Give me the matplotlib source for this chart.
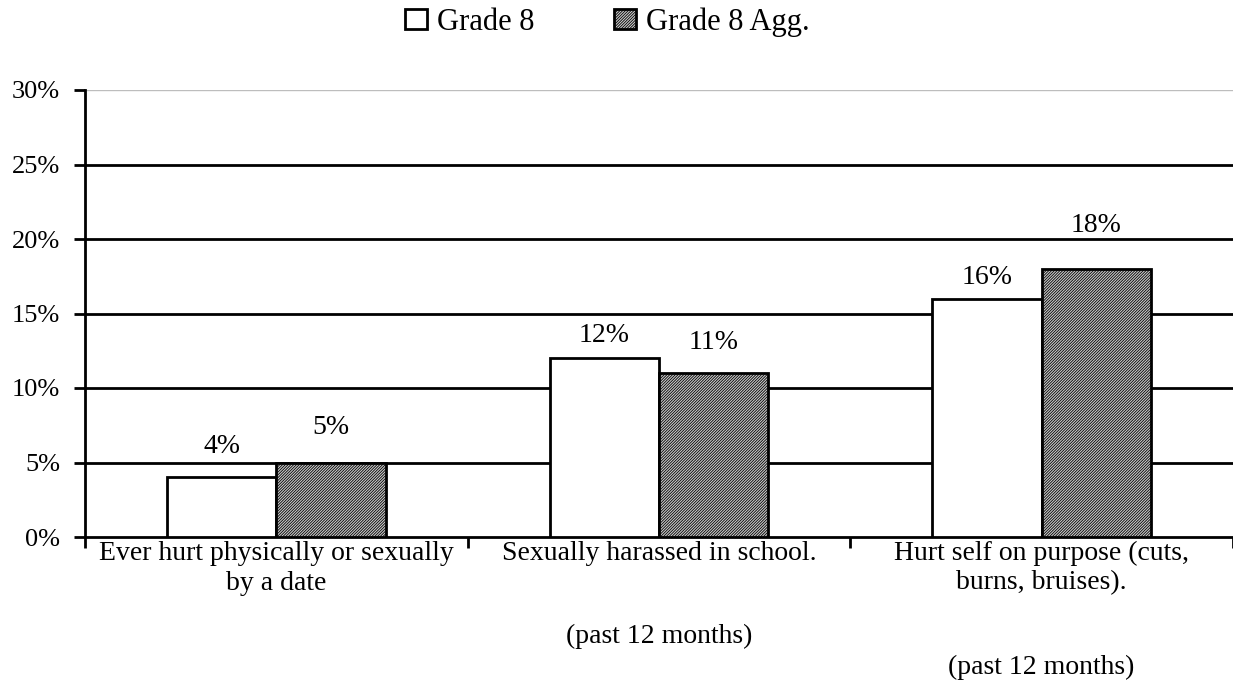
import matplotlib
matplotlib.use("Agg")
import matplotlib.pyplot as plt
from matplotlib.patches import Patch
import numpy as np

categories = ["Ever hurt physically or sexually\nby a date",
              "Sexually harassed in school.",
              "Hurt self on purpose (cuts,\nburns, bruises)."]
sub_labels = ["", "(past 12 months)", "(past 12 months)"]
series_names = ["Grade 8", "Grade 8 Agg."]
grade8 = [4, 12, 16]
grade8_agg = [5, 11, 18]
yticks = [0, 5, 10, 15, 20, 25, 30]

# label baseline offsets above bar tops (pixels), as placed in the original
label_off_g8 = [24.7, 15.7, 14.3]
label_off_agg = [29, 23.7, 36.5]

plt.rcParams['font.family'] = ['Liberation Serif', 'DejaVu Serif']
plt.rcParams['hatch.linewidth'] = 0.6
plt.rcParams['hatch.color'] = '#3a3a3a'

FS = 20
HATCH = '/' * 12
AGG_FACE = '#cacaca'
W, H = 1233, 696
fig = plt.figure(figsize=(W/100, H/100), dpi=100)
ax = fig.add_axes([85/W, 1-537/H, 1-85/W, (537-90)/H])

x = np.arange(len(categories))
bw = 0.286
b1 = ax.bar(x - bw/2, grade8, bw, color='white', edgecolor='black', linewidth=2, zorder=3)
b2 = ax.bar(x + bw/2, grade8_agg, bw, color=AGG_FACE, edgecolor='black', linewidth=2,
            hatch=HATCH, zorder=3)

for bars, vals, offs in ((b1, grade8, label_off_g8), (b2, grade8_agg, label_off_agg)):
    for r, v, o in zip(bars, vals, offs):
        ax.annotate(f"{v}%", (r.get_x() + r.get_width()/2, v), xytext=(0, o),
                    textcoords='offset pixels', ha='center', va='baseline', fontsize=FS)

ax.set_xlim(-0.5, 2.5)
ax.set_ylim(0, 30)
ax.set_yticks(yticks)
ax.set_yticklabels([f"{t}%" for t in yticks], fontsize=19)
for t in yticks[1:-1]:
    ax.axhline(t, color='black', linewidth=2, zorder=1)
ax.axhline(30, color='#bdbdbd', linewidth=1.0, zorder=1)

ax.set_xticks([-0.5, 0.5, 1.5, 2.5])
ax.set_xticklabels([])
ax.tick_params(axis='both', direction='out', length=8, width=2, color='black')
ax.tick_params(axis='y', pad=10)
for s in ('top', 'right'):
    ax.spines[s].set_visible(False)
for s in ('left', 'bottom'):
    ax.spines[s].set_linewidth(2)

line_offsets = [-16, -46]
for i, (c, s) in enumerate(zip(categories, sub_labels)):
    for j, line in enumerate(c.split("\n")):
        ax.annotate(line, (i, 0), xycoords=('data', 'axes fraction'),
                    xytext=(0, line_offsets[j]), textcoords='offset pixels',
                    ha='center', va='center', fontsize=FS)
    if s:
        nlines = c.count("\n") + 1
        off = -99 if nlines == 1 else -130
        ax.annotate(s, (i, 0), xycoords=('data', 'axes fraction'), xytext=(0, off),
                    textcoords='offset pixels', ha='center', va='center', fontsize=FS)

handles = [Patch(facecolor='white', edgecolor='black', linewidth=2),
           Patch(facecolor=AGG_FACE, edgecolor='black', linewidth=2, hatch=HATCH)]
fig.legend(handles, series_names, loc='center', bbox_to_anchor=(607.5/W, 1-22/H),
           ncol=2, frameon=False, fontsize=22, handlelength=0.72, handleheight=0.65,
           handletextpad=0.33, columnspacing=2.6, borderpad=0)

fig.savefig("out.png", dpi=100)
